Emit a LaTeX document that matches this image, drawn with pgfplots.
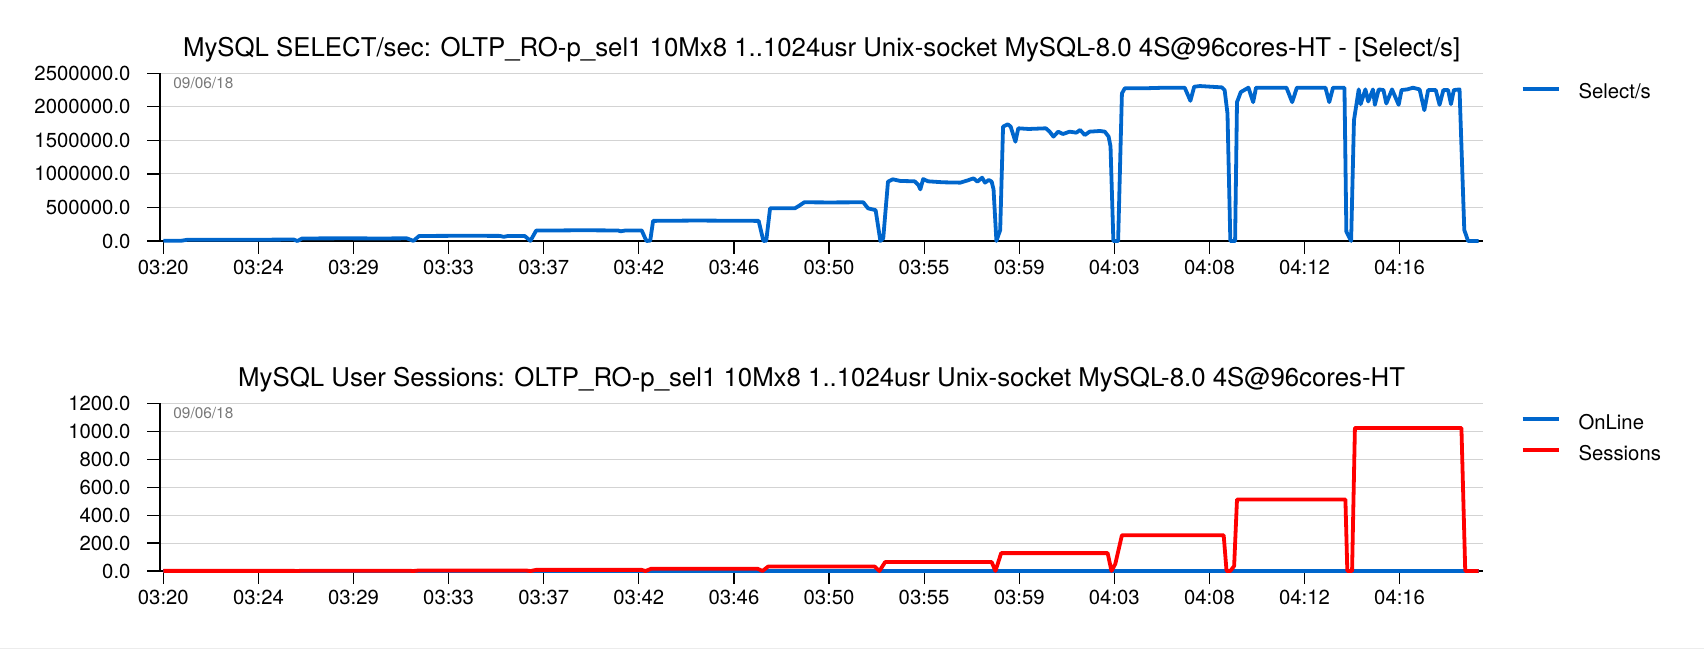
\documentclass[border=0pt]{standalone}
\usepackage{fontspec}
\setmainfont{TeX Gyre Heros}
\usepackage{pgfplots}
\pgfplotsset{compat=1.18}
\usepackage{pgfplotstable}

\definecolor{selblue}{RGB}{0,102,204}
\definecolor{gridgray}{RGB}{211,211,211}
\definecolor{dategray}{RGB}{120,120,120}

\pgfplotstableread{
t v
0.00 3000
0.19 4000
0.25 18000
0.60 20000
1.00 19000
1.37 22000
1.41 0
1.46 38000
1.90 40000
2.30 38000
2.56 40000
2.63 2000
2.69 75000
3.20 78000
3.54 76000
3.58 62000
3.62 74000
3.80 75000
3.86 2000
3.92 155000
4.40 160000
4.78 157000
4.81 145000
4.86 157000
5.03 158000
5.08 0
5.12 5000
5.15 300000
5.60 305000
6.00 302000
6.26 300000
6.31 0
6.34 5000
6.38 487000
6.64 487000
6.68 520000
6.74 577000
7.00 575000
7.36 577000
7.41 487000
7.49 460000
7.54 0
7.57 40000
7.62 885000
7.67 920000
7.75 895000
7.90 890000
7.94 835000
7.96 770000
7.99 924000
8.04 890000
8.20 875000
8.38 870000
8.45 900000
8.52 934000
8.56 885000
8.61 944000
8.64 870000
8.68 910000
8.71 885000
8.73 770000
8.76 0
8.80 164000
8.83 1705000
8.88 1740000
8.91 1705000
8.96 1480000
8.99 1680000
9.10 1670000
9.28 1680000
9.32 1630000
9.36 1556000
9.41 1630000
9.46 1595000
9.53 1630000
9.60 1615000
9.64 1655000
9.69 1580000
9.74 1630000
9.85 1640000
9.90 1630000
9.94 1556000
9.96 1410000
9.99 0
10.04 0
10.08 2200000
10.11 2276000
10.30 2276000
10.55 2286000
10.74 2286000
10.80 2090000
10.84 2300000
10.90 2310000
11.13 2290000
11.16 2250000
11.19 1900000
11.22 0
11.27 0
11.29 2070000
11.33 2220000
11.41 2286000
11.46 2070000
11.49 2286000
11.81 2286000
11.87 2070000
11.92 2286000
12.22 2286000
12.26 2070000
12.30 2286000
12.42 2286000
12.44 140000
12.49 0
12.52 1800000
12.57 2260000
12.59 2040000
12.64 2260000
12.67 2080000
12.72 2260000
12.74 2030000
12.78 2260000
12.83 2250000
12.86 2050000
12.92 2260000
12.99 2030000
13.02 2250000
13.08 2260000
13.14 2285000
13.21 2260000
13.26 1950000
13.30 2250000
13.38 2250000
13.42 2030000
13.46 2250000
13.51 2250000
13.54 2040000
13.57 2250000
13.63 2260000
13.68 164000
13.72 0
13.83 0
}\selectdata

\pgfplotstableread{
t v
0.00 1
1.37 1
1.41 0
1.46 2
2.58 2
2.63 0
2.69 4
3.81 4
3.86 0
3.92 8
5.03 8
5.07 0
5.13 16
6.25 16
6.30 0
6.36 32
7.48 32
7.53 0
7.59 64
8.71 64
8.75 0
8.81 128
9.93 128
9.97 0
10.01 50
10.08 256
11.15 256
11.18 0
11.22 0
11.26 36
11.29 512
12.43 512
12.45 0
12.50 0
12.53 1024
13.65 1024
13.69 0
13.83 0
}\sessdata

\pgfplotstableread{
t v
0.00 0
5.00 0
10.00 0
13.83 0
}\onlinedata

\pgfplotsset{
  mysty/.style={
    scale only axis, width=661.65pt, height=83.85pt,
    xmin=-0.035, xmax=13.88,
    axis x line*=bottom, axis y line*=left,
    axis line style={black, line width=0.6pt},
    tick align=outside, major tick length=6.25pt,
    tick style={black, line width=0.6pt},
    xtick={0,1,...,13},
    xticklabels={03:20,03:24,03:29,03:33,03:37,03:42,03:46,03:50,03:55,03:59,04:03,04:08,04:12,04:16},
    scaled y ticks=false,
    ymajorgrids, major grid style={gridgray, line width=0.5pt},
    tick label style={font=\fontsize{10.15}{12}\selectfont},
    yticklabel style={xshift=-5pt},
    clip=false,
    every axis title/.style={at={(0.5,1)}, anchor=base, yshift=8.3pt, font=\fontsize{12.9}{15}\selectfont},
    legend style={at={(1,1)}, anchor=north west, xshift=18.7pt, yshift=-5.55pt,
      draw=none, fill=none, inner sep=0pt, outer sep=0pt,
      nodes={inner sep=0pt, text height=7.3pt, text depth=0pt},
      row sep=8.2pt, column sep=0pt, font=\fontsize{10.15}{12}\selectfont},
    legend cell align=left,
    legend image code/.code={\draw[##1] (0pt,1.2pt) -- (18.3pt,1.2pt); \path[draw=none,fill=none] (0pt,0pt) -- (28pt,0pt);},
  }
}

\begin{document}
\begin{tikzpicture}
\useasboundingbox (0,0) rectangle (852pt,325pt);
\draw[gray!15, line width=0.6pt] (0,0.85pt) -- (852pt,0.85pt);

\begin{axis}[mysty, at={(80pt,204.5pt)}, anchor=south west,
  ymin=0, ymax=2500000,
  ytick={0,500000,1000000,1500000,2000000,2500000},
  yticklabels={0.0,500000.0,1000000.0,1500000.0,2000000.0,2500000.0},
  title={MySQL SELECT/sec: OLTP\_RO-p\_sel1 10Mx8 1..1024usr Unix-socket MySQL-8.0 4S@96cores-HT - [Select/s]}]
\addplot[selblue, line width=1.9pt, line join=round, mark=none] table[x=t, y=v] {\selectdata};
\addlegendentry{Select/s}
\node[anchor=west, xshift=6.5pt, yshift=-4.7pt, inner sep=0pt, text=dategray, font=\fontsize{7.7}{9}\selectfont] at (rel axis cs:0,1) {09/06/18};
\end{axis}

\begin{axis}[mysty, at={(80pt,39.5pt)}, anchor=south west,
  ymin=0, ymax=1200,
  ytick={0,200,400,600,800,1000,1200},
  yticklabels={0.0,200.0,400.0,600.0,800.0,1000.0,1200.0},
  title={MySQL User Sessions: OLTP\_RO-p\_sel1 10Mx8 1..1024usr Unix-socket MySQL-8.0 4S@96cores-HT}]
\addplot[selblue, line width=1.9pt, mark=none] table[x=t, y=v] {\onlinedata};
\addlegendentry{OnLine}
\addplot[red, line width=1.9pt, line join=round, mark=none] table[x=t, y=v] {\sessdata};
\addlegendentry{Sessions}
\node[anchor=west, xshift=6.5pt, yshift=-4.7pt, inner sep=0pt, text=dategray, font=\fontsize{7.7}{9}\selectfont] at (rel axis cs:0,1) {09/06/18};
\end{axis}
\end{tikzpicture}
\end{document}
